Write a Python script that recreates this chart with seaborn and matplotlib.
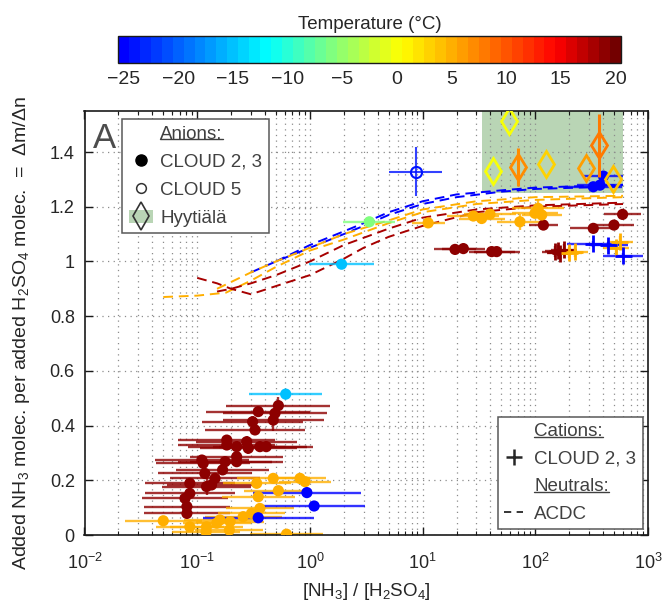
import numpy as np
import pandas as pd
import matplotlib
matplotlib.use("Agg")
import matplotlib.pyplot as plt
import seaborn as sns
from matplotlib.colors import LinearSegmentedColormap, Normalize
from matplotlib.cm import ScalarMappable
from matplotlib.lines import Line2D
from matplotlib.patches import Patch
from matplotlib.legend_handler import HandlerTuple
import matplotlib.ticker as mticker

# ---------------- data ----------------
# CLOUD 2,3 anions (filled circles): x = [NH3]/[H2SO4], y = dm/dn,
# f = multiplicative x-uncertainty, ye = y-uncertainty, T = temperature (C)
c23_x = [0.525, 0.49, 0.473, 0.348, 0.31, 0.326, 0.183, 0.183, 0.224, 0.275,
         0.284, 0.36, 0.41, 0.224, 0.224, 0.177, 0.168, 0.144, 0.134, 0.121,
         0.117, 0.113, 0.110, 0.086, 0.086, 0.078, 0.081, 0.081,
         19.4, 23.0, 41.0, 45.4, 118, 327, 499, 595,
         0.050, 0.086, 0.12, 0.121, 0.149, 0.159, 0.193, 0.196, 0.256, 0.337,
         0.473, 0.525, 0.348, 0.36, 0.303, 0.817, 0.905, 0.62,
         11.2, 28.2, 33.4, 39.6, 73, 99.3, 106, 114,
         0.348, 0.94, 1.09, 402, 375, 327,
         0.61, 1.91, 3.37]
c23_y = [0.473, 0.445, 0.42, 0.451, 0.414, 0.384, 0.347, 0.329, 0.323, 0.341,
         0.317, 0.323, 0.323, 0.286, 0.268, 0.268, 0.238, 0.207, 0.183, 0.177,
         0.225, 0.262, 0.274, 0.189, 0.152, 0.134, 0.104, 0.079,
         1.044, 1.047, 1.036, 1.036, 1.133, 1.121, 1.133, 1.172,
         0.052, 0.030, 0.012, 0.030, 0.043, 0.055, 0.018, 0.049, 0.067, 0.189,
         0.207, 0.162, 0.140, 0.097, 0.079, 0.207, 0.195, 0.003,
         1.141, 1.166, 1.157, 1.173, 1.145, 1.176, 1.194, 1.170,
         0.063, 0.155, 0.106, 1.312, 1.279, 1.273,
         0.515, 0.990, 1.145]
c23_f = [2.9, 2.9, 2.8, 2.9, 2.8, 2.8, 2.7, 2.7, 2.7, 2.8,
         2.7, 2.6, 2.6, 2.6, 2.6, 2.6, 2.6, 2.5, 2.5, 2.5,
         2.6, 2.6, 2.6, 2.5, 2.5, 2.4, 2.4, 2.4,
         1.55, 1.55, 1.6, 1.6, 1.35, 1.6, 1.5, 1.45,
         2.2, 2.0, 2.0, 2.1, 2.0, 2.1, 2.0, 2.0, 2.2, 2.0,
         2.1, 2.0, 2.1, 2.0, 2.0, 1.7, 1.7, 2.1,
         1.4, 1.7, 1.6, 1.7, 1.6, 1.6, 1.7, 1.5,
         3.1, 3.0, 2.8, 1.5, 1.6, 1.8,
         2.1, 1.95, 1.7]
c23_ye = [0.03, 0.02, 0.04, 0.02, 0.02, 0.02, 0.02, 0.02, 0.02, 0.02,
          0.02, 0.02, 0.02, 0.02, 0.02, 0.02, 0.02, 0.02, 0.02, 0.03,
          0.02, 0.02, 0.02, 0.02, 0.02, 0.02, 0.02, 0.02,
          0.01, 0.01, 0.01, 0.01, 0.01, 0.01, 0.01, 0.01,
          0.01, 0.01, 0.01, 0.01, 0.01, 0.01, 0.01, 0.01, 0.01, 0.01,
          0.01, 0.01, 0.01, 0.01, 0.01, 0.01, 0.01, 0.01,
          0.01, 0.01, 0.01, 0.01, 0.03, 0.01, 0.03, 0.02,
          0.01, 0.01, 0.02, 0.01, 0.01, 0.01,
          0.01, 0.01, 0.01]
c23_T = [19] * 28 + [19] * 8 + [5] * 18 + [5] * 8 + [-25] * 6 + [-15, -15, -6]

# CLOUD 5 anions (open circle)
c5_x = [8.7]
c5_y = [1.328]
c5_f = [1.72]
c5_ye = [0.09]
c5_T = [-24]

# Hyytiala field data (open diamonds)
hyy_x = [42, 58, 70, 124, 282, 370, 486]
hyy_y = [1.332, 1.513, 1.346, 1.356, 1.340, 1.425, 1.303]
hyy_ye = [0.0, 0.0, 0.07, 0.0, 0.0, 0.115, 0.0]
hyy_T = [0, 0.5, 6.5, 3, 6, 8, 4]
hyy_box_x = [34, 600]
hyy_box_y = [1.25, 1.55]

# CLOUD 2,3 cations (plus)
cat_x = [150, 158, 166, 180, 200, 225, 520, 564, 327, 445, 604]
cat_y = [1.035, 1.040, 1.030, 1.042, 1.032, 1.036, 1.050, 1.072, 1.064, 1.060, 1.021]
cat_f = [1.3, 1.3, 1.3, 1.3, 1.3, 1.3, 1.3, 1.3, 1.7, 1.5, 1.5]
cat_ye = [0.02, 0.02, 0.02, 0.02, 0.02, 0.02, 0.02, 0.02, 0.01, 0.01, 0.01]
cat_T = [19, 19, 19, 19, 5, 5, 5, 5, -25, -25, -25]

# ACDC model curves (dashed)
acdc_run = (["b1"] * 11 + ["b2"] * 10 + ["o1"] * 12 + ["o2"] * 10 +
            ["r1"] * 13 + ["r2"] * 11)
acdc_x = ([0.3, 0.5, 1, 2, 3, 5, 10, 20, 50, 100, 600] +
          [0.5, 1, 2, 3, 5, 10, 20, 50, 100, 600] +
          [0.05, 0.1, 0.18, 0.3, 0.5, 1, 2, 5, 10, 30, 100, 600] +
          [0.15, 0.3, 0.5, 1, 2, 5, 10, 30, 100, 600] +
          [0.1, 0.15, 0.2, 0.3, 0.5, 1, 2, 3, 5, 10, 30, 100, 600] +
          [0.15, 0.2, 0.3, 0.5, 1, 2, 5, 10, 30, 100, 600])
acdc_y = ([0.96, 1.00, 1.05, 1.10, 1.13, 1.17, 1.21, 1.235, 1.255, 1.265, 1.275] +
          [1.00, 1.06, 1.11, 1.14, 1.18, 1.22, 1.245, 1.26, 1.27, 1.28] +
          [0.87, 0.875, 0.886, 0.93, 0.98, 1.04, 1.08, 1.14, 1.18, 1.21, 1.225, 1.235] +
          [0.90, 0.96, 1.00, 1.05, 1.10, 1.15, 1.19, 1.22, 1.235, 1.24] +
          [0.94, 0.92, 0.90, 0.88, 0.91, 0.95, 1.01, 1.05, 1.09, 1.13, 1.18, 1.20, 1.21] +
          [0.89, 0.90, 0.92, 0.95, 1.00, 1.06, 1.12, 1.16, 1.19, 1.205, 1.215])
acdc_T = ([-25] * 21 + [5] * 22 + [18] * 24)

cbar_ticks = [-25, -20, -15, -10, -5, 0, 5, 10, 15, 20]
y_ticks = [0, 0.2, 0.4, 0.6, 0.8, 1.0, 1.2, 1.4]

# ---------------- style ----------------
sns.set_style("ticks")
plt.rcParams['font.family'] = ['Liberation Sans', 'DejaVu Sans']
plt.rcParams['mathtext.fontset'] = 'custom'
plt.rcParams['mathtext.rm'] = 'Liberation Sans'
plt.rcParams['mathtext.it'] = 'Liberation Sans:italic'
plt.rcParams['mathtext.bf'] = 'Liberation Sans:bold'
plt.rcParams['axes.unicode_minus'] = True
TXT = '0.15'

T_lo, T_hi = -25.5, 20.5
cmap = LinearSegmentedColormap.from_list(
    "temp",
    [(0.0, (0, 0, 1)), (0.2935, (0, 1, 1)), (0.4348, (0.55, 1, 0.45)),
     (0.565, (1, 1, 0)), (0.663, (1, 0.7, 0)), (0.88, (1, 0, 0)),
     (1.0, (0.45, 0, 0))], N=46)
norm = Normalize(T_lo, T_hi)

fig = plt.figure(figsize=(6.62, 6.03), dpi=100)
ax = fig.add_axes([84.5 / 662, 68 / 603, 563.5 / 662, 424 / 603])

df23 = pd.DataFrame(dict(x=c23_x, y=c23_y, f=c23_f, ye=c23_ye, T=c23_T))
df5 = pd.DataFrame(dict(x=c5_x, y=c5_y, f=c5_f, ye=c5_ye, T=c5_T))
dfh = pd.DataFrame(dict(x=hyy_x, y=hyy_y, ye=hyy_ye, T=hyy_T))
dfc = pd.DataFrame(dict(x=cat_x, y=cat_y, f=cat_f, ye=cat_ye, T=cat_T))
dfa = pd.DataFrame(dict(run=acdc_run, x=acdc_x, y=acdc_y, T=acdc_T))

# Hyytiala shaded range
ax.fill_between(hyy_box_x, hyy_box_y[0], hyy_box_y[1], color='#b9d5b5',
                lw=0, zorder=0.3)

# ACDC
sns.lineplot(data=dfa, x='x', y='y', hue='T', units='run', estimator=None,
             palette=cmap, hue_norm=norm, sort=False, legend=False, ax=ax,
             lw=1.4, zorder=1.5)
for ln in ax.lines:
    ln.set_dashes((5, 3))

def errbars(df, lw=1.7, alpha=0.8):
    for _, r in df.iterrows():
        c = cmap(norm(r['T']))
        xe = [[r['x'] - r['x'] / r['f']], [r['x'] * r['f'] - r['x']]]
        ax.errorbar(r['x'], r['y'], xerr=xe, yerr=r['ye'] if r['ye'] > 0 else None,
                    fmt='none', ecolor=c, elinewidth=lw, capsize=0,
                    alpha=alpha, zorder=2)

errbars(df23)
errbars(dfc)
errbars(df5, lw=1.5)

sns.scatterplot(data=df23, x='x', y='y', hue='T', palette=cmap, hue_norm=norm,
                s=65, linewidth=0, legend=False, ax=ax, zorder=3)
sns.scatterplot(data=dfc, x='x', y='y', hue='T', palette=cmap, hue_norm=norm,
                marker='+', s=150, linewidth=2.0, legend=False, ax=ax, zorder=3)

for _, r in df5.iterrows():
    c = cmap(norm(r['T']))
    ax.plot(r['x'], r['y'], marker='o', ms=8, mfc='none', mec=c, mew=1.5,
            ls='none', zorder=3)

for _, r in dfh.iterrows():
    c = cmap(norm(r['T']))
    ax.errorbar(r['x'], r['y'], yerr=r['ye'] if r['ye'] > 0 else None,
                fmt='d', ms=13.5, mfc='none', mec=c, mew=2.0, ecolor=c,
                elinewidth=2.2, capsize=0, zorder=4)

# axes
ax.set_xscale('log')
ax.set_xlim(1e-2, 1e3)
ax.set_ylim(0, 1.55)
ax.set_yticks(y_ticks)
ax.yaxis.set_major_formatter(mticker.FuncFormatter(lambda v, p: f'{v:g}'))
ax.set_axisbelow(True)
ax.grid(True, which='major', ls=(0, (1, 3.5)), color='0.55', lw=0.9)
ax.grid(True, which='minor', axis='x', ls=(0, (1, 3.5)), color='0.55', lw=0.9)
ax.tick_params(which='both', direction='in', top=True, right=True,
               labelsize=13, colors='0.1', labelcolor=TXT)
ax.tick_params(which='major', length=6, width=1)
ax.tick_params(which='minor', length=3, width=0.8)
for s in ax.spines.values():
    s.set_linewidth(1.2)
    s.set_color('0.1')
ax.tick_params(axis='x', pad=13)
ax.tick_params(axis='y', pad=7)

ax.set_xlabel('[NH$_3$] / [H$_2$SO$_4$]', fontsize=13.5, color=TXT, labelpad=6)
ax.set_ylabel('Added NH$_3$ molec. per added H$_2$SO$_4$ molec.  =  \u0394m/\u0394n',
              fontsize=14, color=TXT)
ax.yaxis.set_label_coords(-0.094, 0.475)

ax.text(0.015, 0.975, 'A', transform=ax.transAxes, fontsize=25, color='0.3',
        ha='left', va='top')

# legends
green = '#b9d5b5'
h_anion = Line2D([], [], ls='none')
h_fill = Line2D([], [], marker='o', ls='none', color='k', ms=8)
h_open = Line2D([], [], marker='o', ls='none', mfc='none', mec='0.2', ms=7, mew=1.1)
h_hyy = (Patch(fc=green, ec='none'),
         Line2D([], [], marker='d', ls='none', mfc='none', mec='0.2', ms=14, mew=1.2))
leg1 = ax.legend([h_anion, h_fill, h_open, h_hyy],
                 ['Anions:', 'CLOUD 2, 3', 'CLOUD 5', 'Hyyti\u00e4l\u00e4'],
                 handler_map={tuple: HandlerTuple(ndivide=1)},
                 loc='upper left', bbox_to_anchor=(0.0665, 0.981),
                 fontsize=13.5, frameon=True, fancybox=False, edgecolor='0.35',
                 framealpha=1, labelspacing=0.58, handlelength=1.3,
                 handletextpad=0.4, borderpad=0.35, borderaxespad=0)
leg1.get_frame().set_linewidth(1.1)
for t in leg1.get_texts():
    t.set_color('0.25')
ax.add_artist(leg1)

h_cat = Line2D([], [], ls='none')
h_plus = Line2D([], [], marker='+', ls='none', color='0.15', ms=11, mew=1.8)
h_neu = Line2D([], [], ls='none')
h_dash = Line2D([], [], ls='--', color='0.15', lw=1.3, dashes=(4, 3))
leg2 = ax.legend([h_cat, h_plus, h_neu, h_dash],
                 ['Cations:', 'CLOUD 2, 3', 'Neutrals:', 'ACDC'],
                 loc='lower right', bbox_to_anchor=(0.991, 0.014),
                 fontsize=13.5, frameon=True, fancybox=False, edgecolor='0.35',
                 framealpha=1, labelspacing=0.55, handlelength=1.0,
                 handletextpad=0.6, borderpad=0.35, borderaxespad=0)
leg2.get_frame().set_linewidth(1.1)
for t in leg2.get_texts():
    t.set_color('0.25')

# colorbar
cax = fig.add_axes([118 / 662, 1 - 63 / 603, 503 / 662, 27 / 603])
sm = ScalarMappable(norm=norm, cmap=cmap)
cb = fig.colorbar(sm, cax=cax, orientation='horizontal', ticks=cbar_ticks)
cb.outline.set_linewidth(1.0)
cb.outline.set_edgecolor('0.1')
cax.tick_params(which='both', direction='in', top=True, bottom=True,
                length=5, width=1, labelsize=14, labelcolor=TXT, pad=6)
cax.xaxis.set_label_position('top')
cax.set_xlabel('Temperature (\u00b0C)', fontsize=13.5, color=TXT, labelpad=5)

# underline legend headers
fig.canvas.draw()
r = fig.canvas.get_renderer()
inv = fig.transFigure.inverted()
for leg in (leg1, leg2):
    for t in leg.get_texts():
        if t.get_text().endswith(':'):
            bb = t.get_window_extent(r)
            y0 = bb.y0 + 0.2 * bb.height
            (x0, yy), (x1, _) = inv.transform([(bb.x0, y0), (bb.x1, y0)])
            fig.add_artist(Line2D([x0, x1], [yy, yy], transform=fig.transFigure,
                                  color='0.25', lw=1.0))

fig.savefig('out.png', dpi=100)
